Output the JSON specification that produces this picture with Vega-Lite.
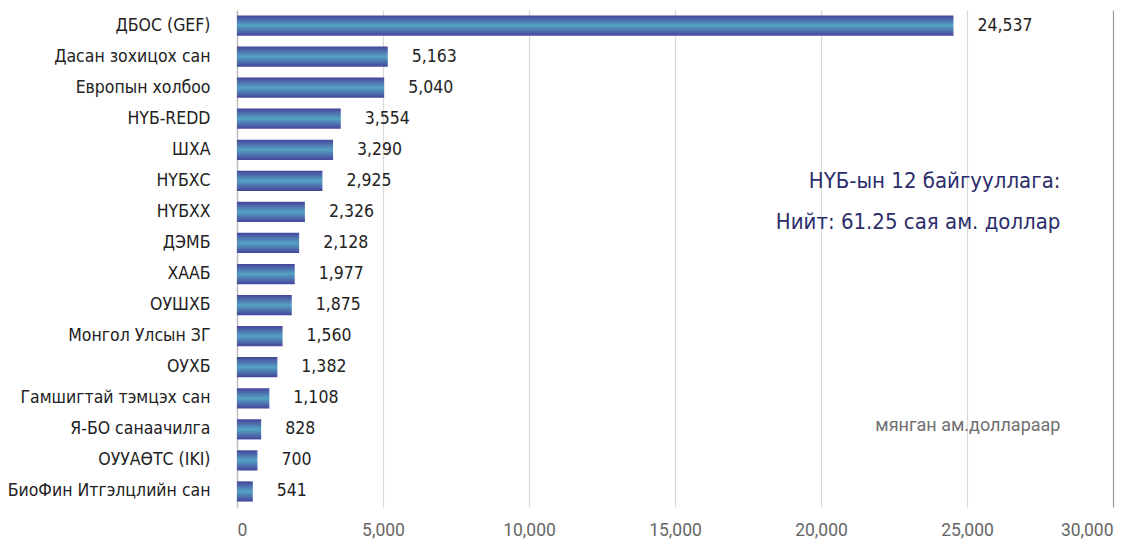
{
  "$schema": "https://vega.github.io/schema/vega-lite/v6.json",
  "width": 876,
  "height": 497,
  "autosize": {"type": "none"},
  "padding": {"left": 237, "top": 10, "right": 33, "bottom": 37},
  "background": "white",
  "config": {"view": {"stroke": null}, "font": "DejaVu Sans Condensed, Roboto"},
  "datasets": {
    "bars": [
      {"org": "ДБОС (GEF)", "value": 24537},
      {"org": "Дасан зохицох сан", "value": 5163},
      {"org": "Европын холбоо", "value": 5040},
      {"org": "НҮБ-REDD", "value": 3554},
      {"org": "ШХА", "value": 3290},
      {"org": "НҮБХС", "value": 2925},
      {"org": "НҮБХХ", "value": 2326},
      {"org": "ДЭМБ", "value": 2128},
      {"org": "ХААБ", "value": 1977},
      {"org": "ОУШХБ", "value": 1875},
      {"org": "Монгол Улсын ЗГ", "value": 1560},
      {"org": "ОУХБ", "value": 1382},
      {"org": "Гамшигтай тэмцэх сан", "value": 1108},
      {"org": "Я-БО санаачилга", "value": 828},
      {"org": "ОУУАӨТС (IKI)", "value": 700},
      {"org": "БиоФин Итгэлцлийн сан", "value": 541}
    ],
    "notes": [
      {"text": "НҮБ-ын 12 байгууллага:", "x": 28200, "org": "НҮБХС", "kind": "title"},
      {"text": "Нийт: 61.25 сая ам. доллар", "x": 28200, "org": "НҮБХХ", "kind": "title2"},
      {"text": "мянган ам.доллараар", "x": 28200, "org": "Я-БО санаачилга", "kind": "unit"}
    ]
  },
  "layer": [
    {
      "data": {"name": "bars"},
      "mark": {
        "type": "bar",
        "color": {
          "gradient": "linear",
          "x1": 0, "y1": 0, "x2": 0, "y2": 1,
          "stops": [
            {"offset": 0, "color": "#46449a"},
            {"offset": 0.5, "color": "#55a3c4"},
            {"offset": 1, "color": "#46449a"}
          ]
        }
      },
      "encoding": {
        "y": {
          "field": "org", "type": "nominal", "sort": null,
          "scale": {"paddingInner": 0.35, "paddingOuter": 0.175},
          "axis": {
            "title": null, "ticks": false, "labelPadding": 27,
            "labelFont": "DejaVu Sans Condensed, Roboto", "labelFontSize": 17.5,
            "labelColor": "#222222", "domainColor": "#bfbfbf", "domainWidth": 1.5,
            "labelLimit": 300
          }
        },
        "x": {
          "field": "value", "type": "quantitative",
          "scale": {"domain": [0, 30000], "nice": false},
          "axis": {
            "title": null, "values": [0, 5000, 10000, 15000, 20000, 25000, 30000],
            "format": ",d", "ticks": false, "domain": false,
            "labelFont": "Roboto", "labelFontSize": 17.5, "labelColor": "#666666",
            "labelPadding": 14,
            "gridColor": {"condition": {"test": "datum.value === 30000", "value": "#9a9a9a"}, "value": "#d9d9d9"},
            "gridWidth": 1.2
          }
        }
      }
    },
    {
      "data": {"name": "bars"},
      "mark": {"type": "text", "align": "left", "baseline": "middle", "dx": 24, "font": "DejaVu Sans Condensed, Roboto", "fontSize": 17.5, "color": "#222222"},
      "encoding": {
        "y": {"field": "org", "type": "nominal", "sort": null},
        "x": {"field": "value", "type": "quantitative"},
        "text": {"field": "value", "type": "quantitative", "format": ","}
      }
    },
    {
      "data": {"name": "notes"},
      "transform": [{"filter": "datum.kind === 'title'"}],
      "mark": {"type": "text", "align": "right", "baseline": "middle", "font": "DejaVu Sans Condensed, Roboto", "fontSize": 22, "color": "#2b2d6b"},
      "encoding": {
        "y": {"field": "org", "type": "nominal", "sort": null},
        "x": {"field": "x", "type": "quantitative"},
        "text": {"field": "text"}
      }
    },
    {
      "data": {"name": "notes"},
      "transform": [{"filter": "datum.kind === 'title2'"}],
      "mark": {"type": "text", "align": "right", "baseline": "middle", "dy": 10, "font": "DejaVu Sans Condensed, Roboto", "fontSize": 22, "color": "#2b2d6b"},
      "encoding": {
        "y": {"field": "org", "type": "nominal", "sort": null},
        "x": {"field": "x", "type": "quantitative"},
        "text": {"field": "text"}
      }
    },
    {
      "data": {"name": "notes"},
      "transform": [{"filter": "datum.kind === 'unit'"}],
      "mark": {"type": "text", "align": "right", "baseline": "middle", "dy": -3, "font": "Roboto", "fontSize": 18, "color": "#707070"},
      "encoding": {
        "y": {"field": "org", "type": "nominal", "sort": null},
        "x": {"field": "x", "type": "quantitative"},
        "text": {"field": "text"}
      }
    }
  ]
}
